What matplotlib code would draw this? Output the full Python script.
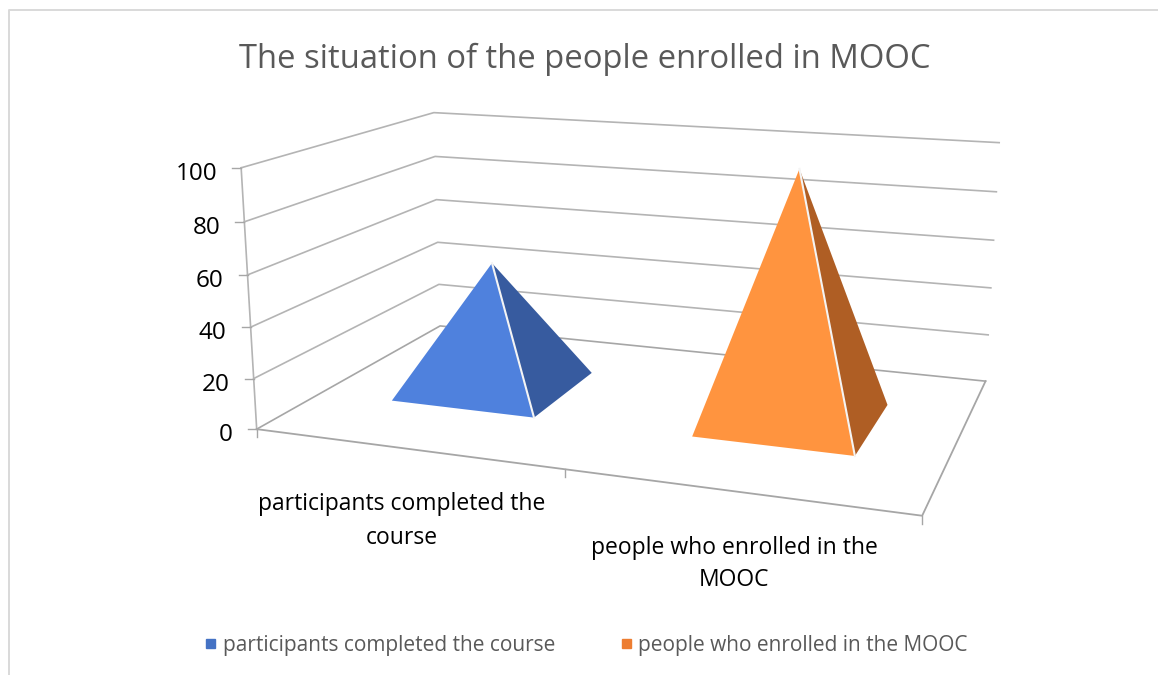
import matplotlib
matplotlib.use('Agg')
import matplotlib.pyplot as plt
import numpy as np
from matplotlib.lines import Line2D
from matplotlib.transforms import IdentityTransform
from mpl_toolkits.mplot3d import proj3d
from mpl_toolkits.mplot3d.art3d import Poly3DCollection

W, H = 1158, 675

title = 'The situation of the people enrolled in MOOC'
categories = ['participants completed the\ncourse', 'people who enrolled in the\nMOOC']
legend_labels = ['participants completed the course', 'people who enrolled in the MOOC']
values = [52, 98]
z_ticks = [0, 20, 40, 60, 80, 100]

front_colors = ['#4f81dd', '#ff943f']
side_colors = ['#375b9f', '#af5e24']
legend_colors = ['#4472c4', '#ed7d31']
grid_color = '#b4b4b4'
edge_color = '#a6a6a6'
text_gray = '#595959'

plt.rcParams['font.family'] = 'Open Sans'

fig = plt.figure(figsize=(W / 100, H / 100), dpi=100)
# camera fitted to the reference's walls
side = 777.09
ax = fig.add_axes([239.66 / W, 1 - (side - 96.30) / H, side / W, side / H], projection='3d')
ax.set_xlim(0, 2)
ax.set_ylim(0, 1)
ax.set_zlim(0, 100)
ax.view_init(elev=13.977, azim=-70.511, roll=-0.108)
ax.set_proj_type('persp', focal_length=0.3774)
ax.set_box_aspect((1, 0.6146, 0.3978))
ax.set_axis_off()
ax.computed_zorder = False
ax.patch.set_alpha(0)


def to_px(x, y, z):
    ax.apply_aspect()
    X, Y, _ = proj3d.proj_transform(x, y, z, ax.get_proj())
    return ax.transData.transform((X, Y))


def px_line(xs, ys, color=edge_color, lw=1.0):
    # ys counted from the top of the picture
    fig.add_artist(Line2D(xs, [H - v for v in ys], color=color, lw=lw,
                          transform=IdentityTransform()))


def px_text(x, y, s, **kw):
    fig.text(x / W, 1 - y / H, s, **kw)


# walls and floor
for z in z_ticks:
    col = edge_color if z == 0 else grid_color
    ax.plot([0, 0, 2], [0, 1, 1], [z, z, z], color=col, lw=1.2, zorder=1, clip_on=False)
ax.plot([0, 0], [0, 0], [0, 100], color=grid_color, lw=1.2, zorder=1, clip_on=False)
ax.plot([0, 2, 2], [0, 0, 1], [0, 0, 0], color=edge_color, lw=1.3, zorder=1, clip_on=False)

# pyramids
half_x = 0.245
half_y = 0.2
for i, v in enumerate(values):
    xc = i + 0.497
    yc = 0.51
    fl = (xc - half_x, yc - half_y, 0)
    fr = (xc + half_x, yc - half_y, 0)
    br = (xc + half_x, yc + half_y, 0)
    top = (xc, yc, v)
    ax.add_collection3d(Poly3DCollection([[fr, br, top]], facecolors=side_colors[i],
                                         edgecolors='none', zorder=3))
    ax.add_collection3d(Poly3DCollection([[fl, fr, top]], facecolors=front_colors[i],
                                         edgecolors='none', zorder=4))
    ax.plot([fr[0], top[0]], [fr[1], top[1]], [0, v], color='#f4f4f4', lw=1.5, zorder=5)

# value axis
for z in z_ticks:
    x, y = to_px(0, 0, z)
    y = H - y
    px_line([x - 9, x], [y, y])
    px_text(x - 24, y + 6, str(z), ha='right', va='center', fontsize=17.5, color='black')

# category axis
for c in [0, 1, 2]:
    x, y = to_px(c, 0, 0)
    y = H - y
    px_line([x, x], [y, y + 8])
px_text(402, 521, categories[0], ha='center', va='center', fontsize=16.5, color='black', linespacing=1.5)
px_text(734, 564, categories[1], ha='center', va='center', fontsize=16.5, color='black', linespacing=1.5)

px_text(585, 59, title, ha='center', va='center', fontsize=23.55, color=text_gray)

# legend
for sx, tx, lab, col in zip([206, 622], [223, 638], legend_labels, legend_colors):
    fig.patches.append(plt.Rectangle((sx, H - 648), 9, 9, color=col, transform=IdentityTransform(), figure=fig))
    px_text(tx, 646, lab, ha='left', va='center', fontsize=15, color=text_gray)

# chart frame, only the left and top edges are in the picture
px_line([9, 9, W], [H, 10, 10], color='#d9d9d9', lw=1.4)

fig.savefig('out.png', dpi=100)
